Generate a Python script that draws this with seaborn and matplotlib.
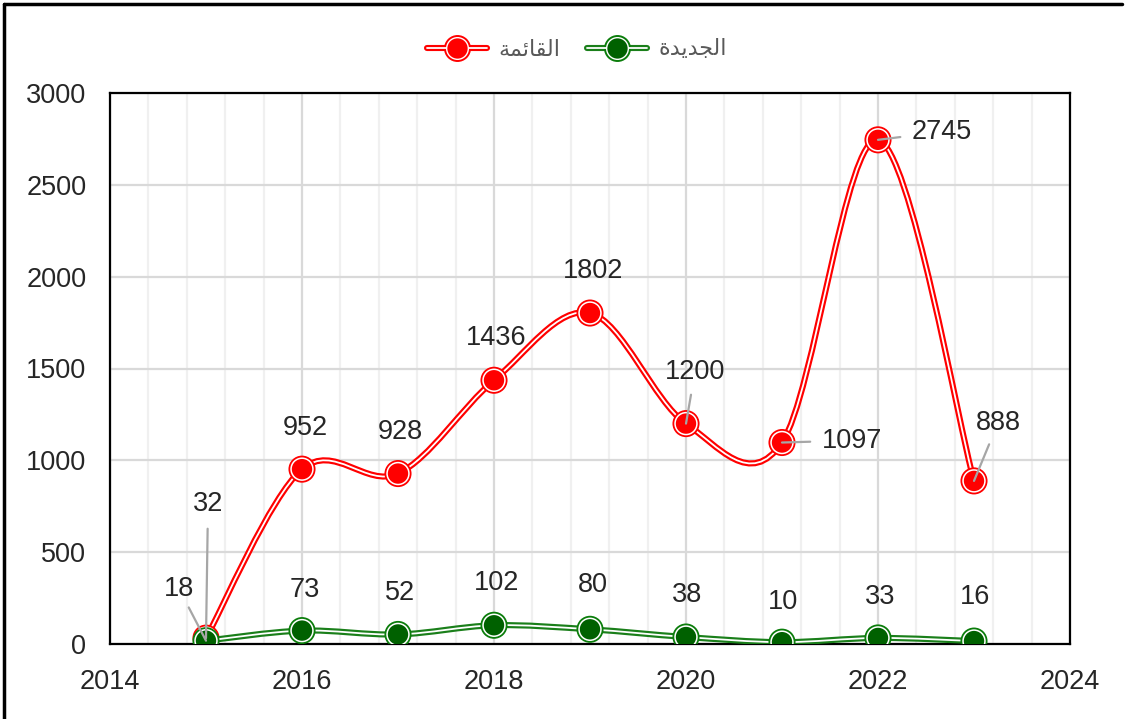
import numpy as np
import pandas as pd
import matplotlib
matplotlib.use("Agg")
import matplotlib.pyplot as plt
import seaborn as sns
from matplotlib.path import Path
from matplotlib.patches import PathPatch
from matplotlib.lines import Line2D
from matplotlib.legend_handler import HandlerTuple
from matplotlib.ticker import MultipleLocator

# data
years = [2015, 2016, 2017, 2018, 2019, 2020, 2021, 2022, 2023]
existing = [32, 952, 928, 1436, 1802, 1200, 1097, 2745, 888]
new = [18, 73, 52, 102, 80, 38, 10, 33, 16]

# Arabic labels written in presentation forms (visual order) since matplotlib does no shaping
name_existing = "\ufe94\ufee4\ufe8b\ufe8e\ufed8\ufedf\ufe8d"   # القائمة
name_new = "\ufe93\ufeaa\ufef3\ufeaa\ufea0\ufedf\ufe8d"        # الجديدة

# label offsets in pixels (dx, dy) and leader line gap (None = no leader)
off_existing = [(2, 134), (3, 41), (2, 42), (2, 42), (3, 42), (9, 52), (70, 2), (64, 8), (24, 58)]
lead_existing = [6, None, None, None, None, 5, 6, 6, 4]
off_new = [(-27, 52), (3, 41), (2, 41), (3, 42), (3, 44), (1, 42), (1, 40), (2, 41), (1, 44)]
lead_new = [2, None, None, None, None, None, None, None, None]

RED = "#ff0000"
GREEN_LINE = "#1a7f1a"
GREEN_OUT = "#0b7d0b"
GREEN_IN = "#006100"

sns.set_theme(style="white")
plt.rcParams["font.family"] = ["Liberation Sans", "DejaVu Sans"]

fig = plt.figure(figsize=(11.27, 7.19), dpi=100)
ax = fig.add_axes([110 / 1127, 1 - 644 / 719, 960 / 1127, 551 / 719])


def smooth_path(xs, ys):
    # Excel-like smoothed line: cubic bezier segments through every point
    pts = np.column_stack([xs, ys]).astype(float)
    n = len(pts)
    verts = [pts[0]]
    codes = [Path.MOVETO]
    for i in range(n - 1):
        p0 = pts[i - 1] if i > 0 else pts[i]
        p1 = pts[i]
        p2 = pts[i + 1]
        p3 = pts[i + 2] if i + 2 < n else pts[i + 1]
        verts += [p1 + (p2 - p0) / 6, p2 - (p3 - p1) / 6, p2]
        codes += [Path.CURVE4] * 3
    return Path(verts, codes)


def draw_series(vals, line_col, out_col, in_col, z):
    df = pd.DataFrame({"year": years, "value": vals})
    p = smooth_path(df["year"], df["value"])
    ax.add_patch(PathPatch(p, fill=False, ec=line_col, lw=4.4, zorder=z, capstyle="round"))
    ax.add_patch(PathPatch(p, fill=False, ec="white", lw=1.3, zorder=z + 0.1))
    sns.scatterplot(data=df, x="year", y="value", s=380, color=out_col, edgecolor="none",
                    ax=ax, zorder=z + 0.2, legend=False)
    sns.scatterplot(data=df, x="year", y="value", s=285, color="white", edgecolor="none",
                    ax=ax, zorder=z + 0.3, legend=False)
    sns.scatterplot(data=df, x="year", y="value", s=215, color=in_col, edgecolor="none",
                    ax=ax, zorder=z + 0.4, legend=False)


draw_series(existing, RED, RED, RED, 3)
draw_series(new, GREEN_LINE, GREEN_OUT, GREEN_IN, 4)


def draw_labels(vals, offs, leads):
    for x, v, (dx, dy), lead in zip(years, vals, offs, leads):
        kw = {}
        if lead is not None:
            kw["arrowprops"] = dict(arrowstyle="-", color="#a6a6a6", lw=1.6,
                                    shrinkA=lead, shrinkB=0)
        ax.annotate(str(v), xy=(x, v), xytext=(dx, dy), textcoords="offset pixels",
                    ha="center", va="center", fontsize=19.5, color="#262626", zorder=6, **kw)


draw_labels(existing, off_existing, lead_existing)
draw_labels(new, off_new, lead_new)

ax.set_xlim(2014, 2024)
ax.set_ylim(0, 3000)
ax.xaxis.set_major_locator(MultipleLocator(2))
ax.xaxis.set_minor_locator(MultipleLocator(0.4))
ax.yaxis.set_major_locator(MultipleLocator(500))
ax.grid(which="major", color="#d9d9d9", lw=1.6)
ax.grid(which="minor", axis="x", color="#f0f0f0", lw=1.6)
ax.set_axisbelow(True)
ax.set_xlabel("")
ax.set_ylabel("")
ax.tick_params(which="both", length=0)
ax.tick_params(axis="y", pad=17, labelsize=19.5, labelcolor="#262626")
ax.tick_params(axis="x", pad=18, labelsize=19.5, labelcolor="#262626")
for s in ax.spines.values():
    s.set_visible(True)
    s.set_color("black")
    s.set_linewidth(1.6)


def legend_handle(line_col, out_col, in_col):
    return (
        Line2D([], [], color=line_col, lw=4.4, marker="o", ms=19.4, mfc=out_col, mec="none"),
        Line2D([], [], color="white", lw=1.3, marker="o", ms=16.6, mfc="white", mec="none"),
        Line2D([], [], color="none", marker="o", ms=14.6, mfc=in_col, mec="none"),
    )


fig.legend([legend_handle(RED, RED, RED), legend_handle(GREEN_LINE, GREEN_OUT, GREEN_IN)],
           [name_existing, name_new], handler_map={tuple: HandlerTuple(ndivide=1)},
           loc="center", bbox_to_anchor=(577 / 1127, 1 - 50 / 719), ncol=2, frameon=False,
           fontsize=16, labelcolor="#595959", handlelength=2.7, handletextpad=0.5,
           columnspacing=1.2)

# outer frame of the picture (top and left edges)
fig.add_artist(Line2D([4 / 1127, 1122 / 1127], [1 - 4 / 719, 1 - 4 / 719],
                      transform=fig.transFigure, color="black", lw=2.5))
fig.add_artist(Line2D([4 / 1127, 4 / 1127], [0, 1 - 4 / 719],
                      transform=fig.transFigure, color="black", lw=2.5))

fig.savefig("out.png", dpi=100)
